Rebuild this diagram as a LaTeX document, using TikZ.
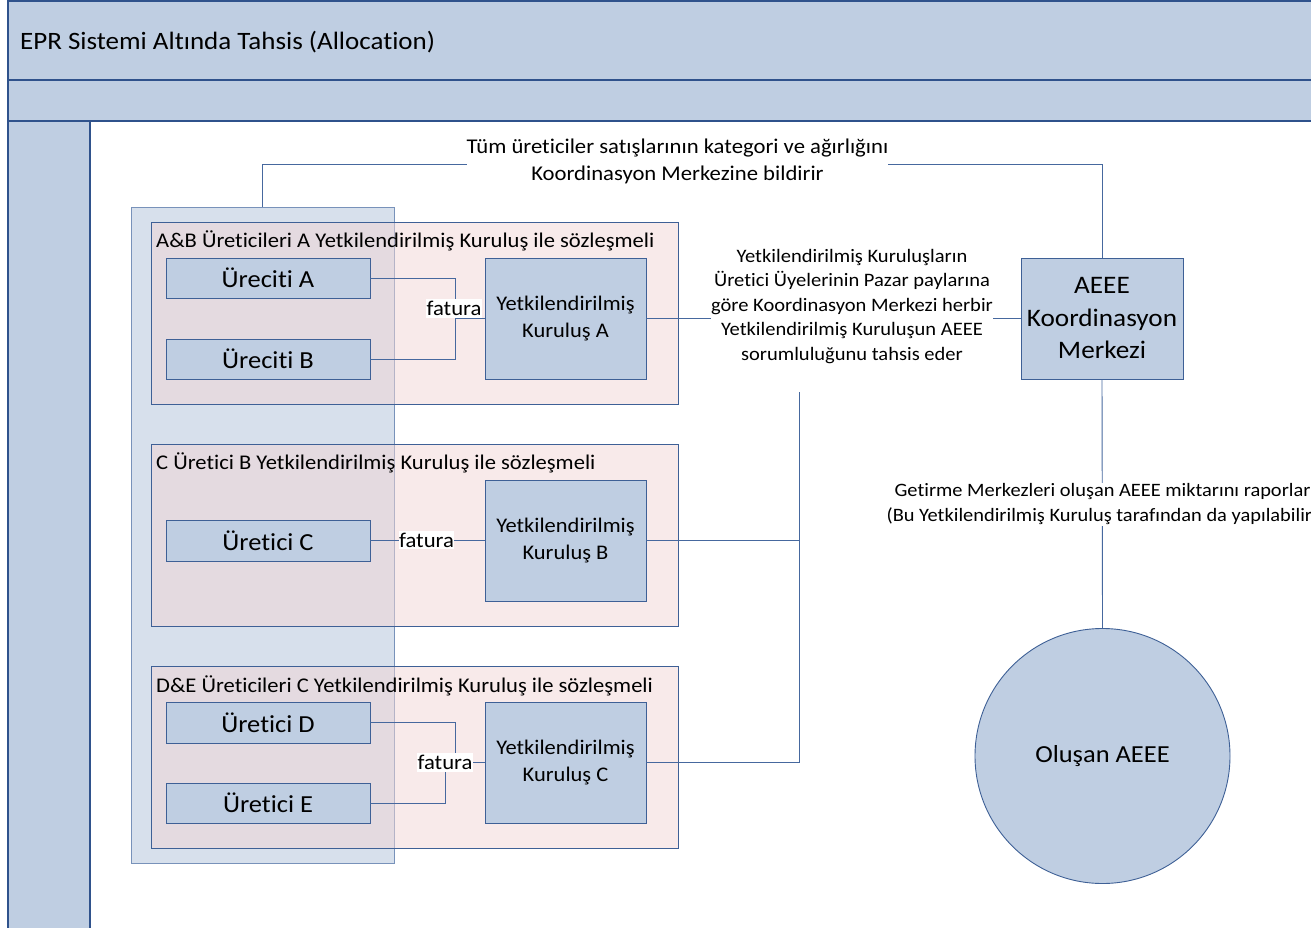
\documentclass[tikz,border=0pt]{standalone}
\usepackage{fontspec}
\setmainfont{Carlito}[FakeStretch=1.08, Ligatures=NoCommon]
\definecolor{boxfill}{RGB}{191,206,226}
\definecolor{boxline}{RGB}{62,96,150}
\definecolor{frameline}{RGB}{47,82,140}
\definecolor{grpfill}{RGB}{215,224,236}
\definecolor{grpline}{RGB}{120,146,186}
\definecolor{pinkfill}{RGB}{241,213,213}
\definecolor{conline}{RGB}{70,104,158}
\begin{document}
\begin{tikzpicture}[x=1pt,y=-1pt,
  frame/.style={draw=frameline, fill=boxfill, line width=1.6pt},
  box/.style={draw=boxline, fill=boxfill, line width=0.9pt, inner sep=0pt, align=center},
  prod/.style={box, minimum width=204pt, minimum height=40pt, font=\fontsize{24.5}{28}\selectfont},
  kur/.style={box, minimum width=161pt, minimum height=121pt, font=\fontsize{20.8}{27}\selectfont},
  cont/.style={draw=boxline, fill=pinkfill, fill opacity=0.5, line width=0.9pt},
  contlabel/.style={anchor=west, inner sep=0pt, font=\fontsize{20.9}{24}\selectfont},
  con/.style={draw=conline, line width=0.9pt},
  lbl/.style={fill=white, inner xsep=0pt, inner ysep=1pt, align=center},
  fat/.style={fill=white, inner xsep=0.5pt, inner ysep=2pt, font=\fontsize{21}{24}\selectfont}]
\useasboundingbox (0,0) rectangle (1311,928);
% frame
\draw[frame] (8,0.8) rectangle (1330,80);
\draw[frame] (8,80) rectangle (1330,121);
\draw[frame] (8,121) rectangle (90,940);
\node[anchor=west, inner sep=0pt, font=\fontsize{25}{30}\selectfont] (title) at (20,42) {EPR Sistemi Altında Tahsis (Allocation)};
% group of producers
\node[draw=grpline, fill=grpfill, line width=0.9pt, inner sep=0pt, minimum width=263pt, minimum height=656pt] (grp) at (262.5,535) {};
% containers
\node[cont, inner sep=0pt, minimum width=527pt, minimum height=182pt] (cAB) at (414.5,313) {};
\node[cont, inner sep=0pt, minimum width=527pt, minimum height=182pt] (cC) at (414.5,535) {};
\node[cont, inner sep=0pt, minimum width=527pt, minimum height=182pt] (cDE) at (414.5,757) {};
\node[contlabel] (lAB) at (156,241) {A\&B Üreticileri A Yetkilendirilmiş Kuruluş ile sözleşmeli};
\node[contlabel] (lC) at (156,463) {C Üretici B Yetkilendirilmiş Kuruluş ile sözleşmeli};
\node[contlabel] (lDE) at (156,686) {D\&E Üreticileri C Yetkilendirilmiş Kuruluş ile sözleşmeli};
% boxes
\node[prod] (ureA) at (268,278) {Üreciti A};
\node[prod] (ureB) at (268,359) {Üreciti B};
\node[prod, minimum height=41pt] (ureC) at (268,540.5) {Üretici C};
\node[prod, minimum height=41pt] (ureD) at (268,722.5) {Üretici D};
\node[prod] (ureE) at (268,803) {Üretici E};
\node[kur] (kurA) at (565.5,318.5) {Yetkilendirilmiş\\Kuruluş A};
\node[kur] (kurB) at (565.5,540.5) {Yetkilendirilmiş\\Kuruluş B};
\node[kur] (kurC) at (565.5,762.5) {Yetkilendirilmiş\\Kuruluş C};
\node[box, minimum width=162pt, minimum height=121pt, font=\fontsize{25.2}{32.5}\selectfont] (aeee) at (1102,318.5) {AEEE\\Koordinasyon\\Merkezi};
\node[circle, draw=boxline, fill=boxfill, line width=0.9pt, minimum size=255pt, inner sep=0pt, font=\fontsize{24.5}{28}\selectfont] (circ) at (1102.5,756) {Oluşan AEEE};
% junction coordinates
\coordinate (jAB) at (455,318.5);
\coordinate (jD) at (455,762.5);
\coordinate (jE) at (445,762.5);
\coordinate (tB) at (799,392);
\coordinate (topY) at (677,164);
% connectors
\draw[con] (ureA.east) -| (jAB) -- (kurA.west);
\draw[con] (ureB.east) -| (jAB);
\draw[con] (ureC.east) -- (kurB.west);
\draw[con] (ureD.east) -| (jD) -- (kurC.west);
\draw[con] (ureE.east) -| (jE) -- (kurC.west);
\draw[con] (kurA.east) -- (aeee.west);
\draw[con] (kurB.east) -| (tB);
\draw[con] (kurC.east) -| (tB);
\draw[con] (grp.north) |- (topY) -| (aeee.north);
\draw[con] (aeee.south) -- (circ.north);
% labels
\node[fat] (fA) at (454,308.5) {fatura};
\node[fat] (fC) at (426.5,540) {fatura};
\node[fat] (fDE) at (445,762.5) {fatura};
\node[lbl, font=\fontsize{19}{24.5}\selectfont] (mid) at (852,306.5) {Yetkilendirilmiş Kuruluşların\\Üretici Üyelerinin Pazar paylarına\\göre Koordinasyon Merkezi herbir\\Yetkilendirilmiş Kuruluşun AEEE\\sorumluluğunu tahsis eder};
\node[lbl, font=\fontsize{21}{27}\selectfont] (top) at (677.5,161.5) {Tüm üreticiler satışlarının kategori ve ağırlığını\\Koordinasyon Merkezine bildirir};
\node[lbl, font=\fontsize{18.9}{25}\selectfont] (bot) at (1102.5,504.5) {Getirme Merkezleri oluşan AEEE miktarını raporlar\\(Bu Yetkilendirilmiş Kuruluş tarafından da yapılabilir)};
\end{tikzpicture}
\end{document}
